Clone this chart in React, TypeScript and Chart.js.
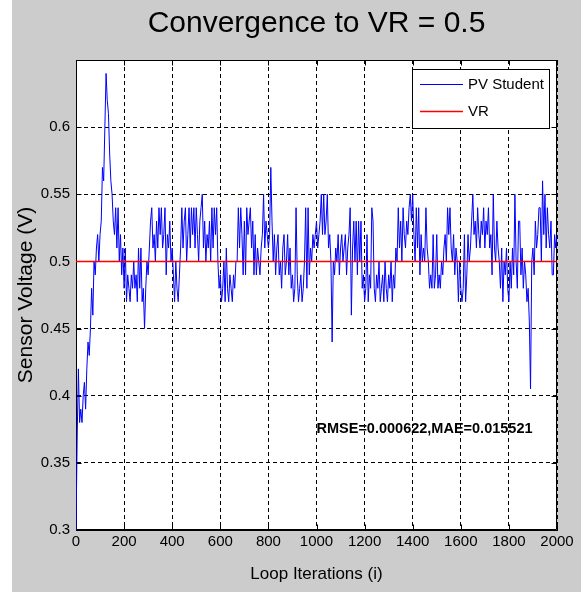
import React, { useEffect, useRef } from "react";
import { Chart, registerables } from "chart.js";

Chart.register(...registerables);

// ---------- content ----------
const TITLE = "Convergence to VR = 0.5";
const X_LABEL = "Loop Iterations (i)";
const Y_LABEL = "Sensor Voltage (V)";
const SERIES_NAMES = ["PV Student", "VR"];
const NOTE_TEXT = "RMSE=0.000622,MAE=0.015521";
const NOTE_AT = [1000, 0.375]; // data coordinates of the note's left edge

// axes
const X_MIN = 0;
const X_MAX = 2000;
const X_TICK_STEP = 200;
const Y_MIN = 0.3;
const Y_MAX = 0.65;
const Y_TICK_STEP = 0.05;

// iteration spacing of the samples below
const ITER_STEP = 5;

// PV Student sensor voltage, every 5 iterations (0..2000)
const PV_STUDENT = [
  0.30, 0.37, 0.42, 0.38, 0.39, 0.38, 0.40, 0.41, 0.39, 0.42, 0.44, 0.43, 0.45, 0.48, 0.46, 0.50, 0.49, 0.51, 0.52, 0.50, 0.52,
  0.53, 0.57, 0.56, 0.60, 0.64, 0.62, 0.61, 0.58, 0.56, 0.55, 0.53, 0.52, 0.54, 0.51, 0.54, 0.50, 0.52, 0.49, 0.51, 0.48,
  0.51, 0.47, 0.49, 0.48, 0.47, 0.49, 0.48, 0.50, 0.48, 0.49, 0.47, 0.51, 0.48, 0.51, 0.47, 0.48, 0.45, 0.48, 0.50, 0.49,
  0.51, 0.53, 0.54, 0.51, 0.52, 0.50, 0.53, 0.51, 0.54, 0.52, 0.54, 0.51, 0.52, 0.54, 0.49, 0.52, 0.51, 0.53, 0.50, 0.51,
  0.49, 0.47, 0.50, 0.48, 0.47, 0.49, 0.51, 0.54, 0.51, 0.53, 0.54, 0.50, 0.52, 0.54, 0.51, 0.54, 0.52, 0.54, 0.51, 0.54,
  0.52, 0.50, 0.53, 0.54, 0.55, 0.51, 0.53, 0.50, 0.52, 0.51, 0.53, 0.50, 0.54, 0.51, 0.54, 0.52, 0.54, 0.50, 0.48, 0.49,
  0.47, 0.48, 0.50, 0.47, 0.51, 0.48, 0.47, 0.49, 0.48, 0.47, 0.49, 0.48, 0.50, 0.50, 0.54, 0.51, 0.54, 0.52, 0.49, 0.53,
  0.49, 0.54, 0.52, 0.53, 0.54, 0.51, 0.53, 0.49, 0.52, 0.49, 0.51, 0.50, 0.49, 0.51, 0.52, 0.55, 0.51, 0.53, 0.52, 0.51,
  0.52, 0.57, 0.53, 0.50, 0.52, 0.49, 0.51, 0.52, 0.49, 0.50, 0.48, 0.51, 0.52, 0.49, 0.50, 0.52, 0.49, 0.51, 0.48, 0.49,
  0.47, 0.48, 0.54, 0.49, 0.47, 0.48, 0.49, 0.47, 0.48, 0.50, 0.54, 0.48, 0.54, 0.49, 0.51, 0.50, 0.52, 0.51, 0.52, 0.53,
  0.51, 0.52, 0.53, 0.55, 0.52, 0.55, 0.52, 0.53, 0.55, 0.51, 0.52, 0.50, 0.44, 0.50, 0.49, 0.51, 0.50, 0.52, 0.49, 0.51,
  0.52, 0.50, 0.51, 0.52, 0.49, 0.51, 0.52, 0.54, 0.46, 0.51, 0.53, 0.50, 0.53, 0.49, 0.53, 0.50, 0.53, 0.48, 0.49, 0.47,
  0.48, 0.52, 0.47, 0.49, 0.48, 0.54, 0.53, 0.48, 0.47, 0.49, 0.48, 0.50, 0.47, 0.48, 0.49, 0.47, 0.50, 0.48, 0.47, 0.49,
  0.48, 0.50, 0.47, 0.49, 0.48, 0.51, 0.50, 0.54, 0.51, 0.53, 0.50, 0.54, 0.52, 0.51, 0.53, 0.52, 0.54, 0.55, 0.53, 0.55,
  0.52, 0.50, 0.54, 0.51, 0.54, 0.49, 0.52, 0.50, 0.51, 0.50, 0.54, 0.51, 0.50, 0.48, 0.49, 0.48, 0.52, 0.48, 0.49, 0.52,
  0.48, 0.49, 0.48, 0.50, 0.49, 0.51, 0.52, 0.50, 0.54, 0.52, 0.54, 0.51, 0.50, 0.52, 0.49, 0.51, 0.50, 0.47, 0.50, 0.48,
  0.47, 0.48, 0.52, 0.47, 0.49, 0.52, 0.50, 0.51, 0.53, 0.55, 0.52, 0.53, 0.51, 0.54, 0.52, 0.51, 0.53, 0.52, 0.54, 0.51,
  0.53, 0.52, 0.54, 0.51, 0.52, 0.49, 0.55, 0.51, 0.50, 0.53, 0.51, 0.50, 0.48, 0.51, 0.47, 0.50, 0.49, 0.51, 0.48, 0.47,
  0.50, 0.48, 0.51, 0.49, 0.55, 0.50, 0.48, 0.53, 0.53, 0.49, 0.51, 0.48, 0.50, 0.49, 0.47, 0.48, 0.455, 0.405, 0.50, 0.51,
  0.49, 0.53, 0.51, 0.52, 0.54, 0.54, 0.50, 0.56, 0.52, 0.55, 0.51, 0.54, 0.52, 0.51, 0.53, 0.49, 0.49, 0.52, 0.51, 0.52,
];

// reference voltage (constant)
const VR_LEVEL = 0.5;

// ---------- styling ----------
const SANS = "'Liberation Sans', Arial, Helvetica, sans-serif";
const FIG_BG = "#cccccc";
const PV_COLOR = "#0000ff";
const VR_COLOR = "#ff0000";

const figurePlugin = {
  id: "matlabFigure",
  beforeDraw(chart: any) {
    const { ctx, width, height, chartArea: a } = chart;
    ctx.save();
    ctx.fillStyle = "#ffffff";
    ctx.fillRect(0, 0, width, height);
    ctx.fillStyle = FIG_BG;
    ctx.fillRect(12, 0, width - 12, height);
    ctx.fillStyle = "#ffffff";
    ctx.fillRect(a.left, a.top, a.right - a.left, a.bottom - a.top);
    ctx.restore();
  },
  beforeDatasetsDraw(chart: any) {
    const { ctx, chartArea: a, scales } = chart;
    const L = Math.round(a.left) + 0.5;
    const R = Math.round(a.right) - 0.5;
    const T = Math.round(a.top) + 0.5;
    const B = Math.round(a.bottom) - 0.5;
    ctx.save();
    ctx.strokeStyle = "#000";
    ctx.lineWidth = 1;
    ctx.setLineDash([]);
    ctx.beginPath();
    ctx.moveTo(L, T);
    ctx.lineTo(R, T);
    ctx.lineTo(R, B);
    ctx.lineTo(L, B);
    ctx.closePath();
    ctx.stroke();
    // inner tick marks
    const tl = 5;
    ctx.beginPath();
    scales.x.ticks.forEach((t: any) => {
      const px = Math.round(scales.x.getPixelForValue(t.value)) + 0.5;
      ctx.moveTo(px, B);
      ctx.lineTo(px, B - tl);
      ctx.moveTo(px, T);
      ctx.lineTo(px, T + tl);
    });
    scales.y.ticks.forEach((t: any) => {
      const py = Math.round(scales.y.getPixelForValue(t.value)) + 0.5;
      ctx.moveTo(L, py);
      ctx.lineTo(L + tl, py);
      ctx.moveTo(R, py);
      ctx.lineTo(R - tl, py);
    });
    ctx.stroke();
    ctx.restore();
  },
  afterDraw(chart: any) {
    const { ctx, scales, data } = chart;
    ctx.save();
    // note text
    ctx.fillStyle = "#000";
    ctx.font = `bold 14.5px ${SANS}`;
    ctx.textAlign = "left";
    ctx.textBaseline = "middle";
    ctx.fillText(
      NOTE_TEXT,
      scales.x.getPixelForValue(NOTE_AT[0]),
      scales.y.getPixelForValue(NOTE_AT[1])
    );
    // legend box
    const bx = 412, by = 69, bw = 137, bh = 59;
    ctx.fillStyle = "#ffffff";
    ctx.fillRect(bx, by, bw, bh);
    ctx.strokeStyle = "#000";
    ctx.lineWidth = 1;
    ctx.strokeRect(bx + 0.5, by + 0.5, bw, bh);
    ctx.font = `15px ${SANS}`;
    ctx.textBaseline = "middle";
    const rows = [84, 111];
    data.datasets.forEach((ds: any, i: number) => {
      const y = rows[i];
      ctx.strokeStyle = ds.borderColor;
      ctx.lineWidth = ds.borderWidth;
      ctx.beginPath();
      ctx.moveTo(420, y + 0.5);
      ctx.lineTo(463, y + 0.5);
      ctx.stroke();
      ctx.fillStyle = "#000";
      ctx.fillText(ds.label, 468, y + 1);
    });
    ctx.restore();
  },
};

export default function App() {
  const ref = useRef<HTMLCanvasElement | null>(null);

  useEffect(() => {
    if (!ref.current) return;
    const pvPoints = PV_STUDENT.map((v, i) => ({ x: i * ITER_STEP, y: v }));
    const vrPoints = [
      { x: X_MIN, y: VR_LEVEL },
      { x: X_MAX, y: VR_LEVEL },
    ];
    const chart = new Chart(ref.current, {
      type: "line",
      data: {
        datasets: [
          {
            label: SERIES_NAMES[0],
            data: pvPoints,
            borderColor: PV_COLOR,
            borderWidth: 1,
            pointRadius: 0,
            tension: 0,
            fill: false,
            order: 1,
          },
          {
            label: SERIES_NAMES[1],
            data: vrPoints,
            borderColor: VR_COLOR,
            borderWidth: 1.5,
            pointRadius: 0,
            tension: 0,
            fill: false,
            order: 0,
          },
        ],
      },
      options: {
        animation: false,
        responsive: false,
        maintainAspectRatio: false,
        events: [],
        layout: { padding: { left: 0, right: 24, top: 0, bottom: 0 } },
        plugins: {
          legend: { display: false },
          tooltip: { enabled: false },
          title: {
            display: true,
            text: TITLE,
            fullSize: false,
            color: "#000",
            font: { family: SANS, size: 30, weight: "normal" },
            padding: { top: 6, bottom: 18 },
          },
        },
        scales: {
          x: {
            type: "linear",
            min: X_MIN,
            max: X_MAX,
            afterFit: (s: any) => {
              s.height = 62;
            },
            ticks: {
              stepSize: X_TICK_STEP,
              color: "#000",
              font: { family: SANS, size: 15 },
              padding: 3,
              maxRotation: 0,
              autoSkip: false,
              callback: (v: any) => String(Math.round(Number(v))),
            },
            grid: { color: "#000", lineWidth: 1, drawTicks: false, tickLength: 0 },
            border: { display: true, color: "#000", width: 1, dash: [4, 3] },
            title: {
              display: true,
              text: X_LABEL,
              color: "#000",
              font: { family: SANS, size: 17 },
              padding: { top: 0, bottom: 7 },
            },
          },
          y: {
            type: "linear",
            min: Y_MIN,
            max: Y_MAX,
            afterFit: (s: any) => {
              s.width = 76;
            },
            ticks: {
              stepSize: Y_TICK_STEP,
              color: "#000",
              font: { family: SANS, size: 15 },
              padding: 6,
              callback: (v: any) => {
                const n = Number(v);
                if (Math.abs(n - Y_MAX) < 1e-9) return "";
                return String(Math.round(n * 100) / 100);
              },
            },
            grid: { color: "#000", lineWidth: 1, drawTicks: false, tickLength: 0 },
            border: { display: true, color: "#000", width: 1, dash: [4, 3] },
            title: {
              display: true,
              text: Y_LABEL,
              color: "#000",
              font: { family: SANS, size: 21 },
              padding: { top: 14, bottom: 0 },
            },
          },
        },
      },
      plugins: [figurePlugin],
    } as any);
    return () => chart.destroy();
  }, []);

  return (
    <div style={{ position: "fixed", left: 0, top: 0, width: 581, height: 592 }}>
      <canvas ref={ref} width={581} height={592} style={{ display: "block", width: 581, height: 592 }} />
    </div>
  );
}
